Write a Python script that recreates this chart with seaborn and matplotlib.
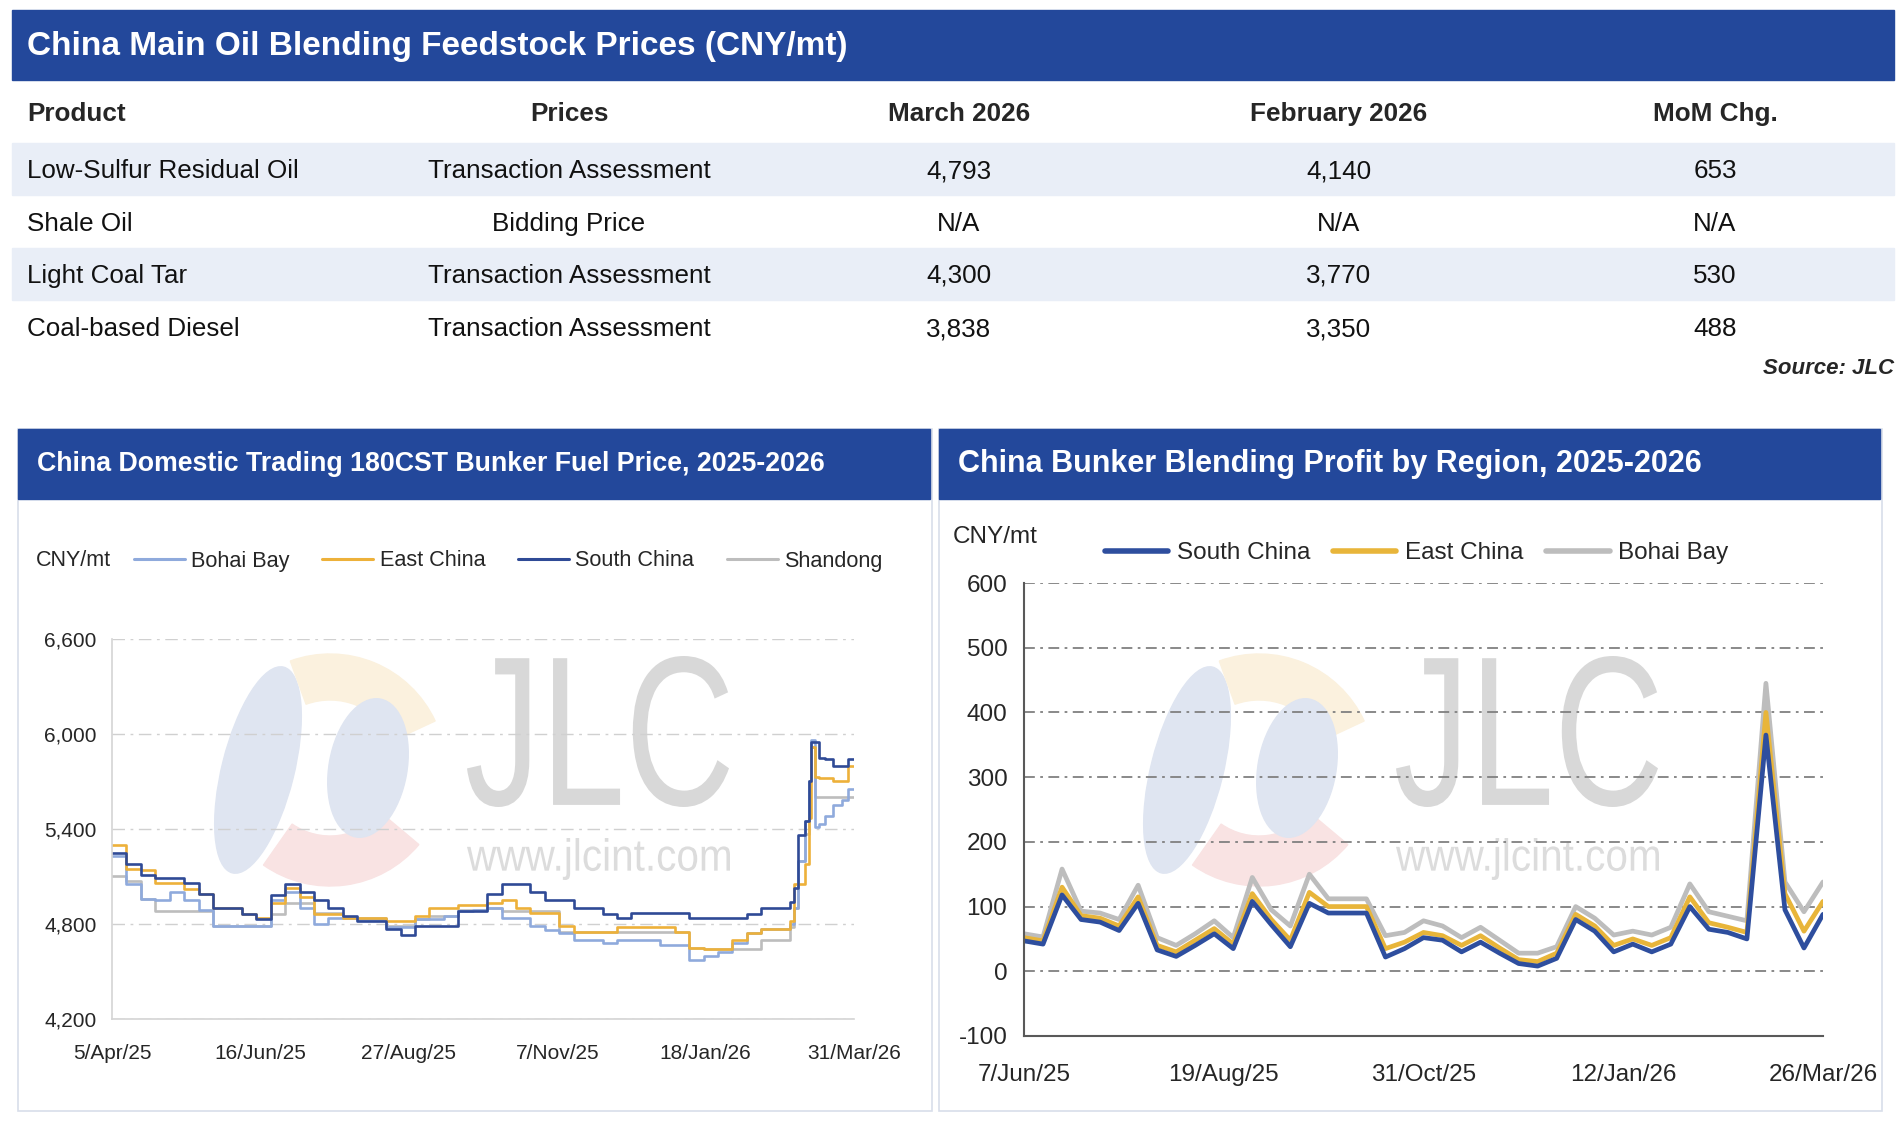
import matplotlib
matplotlib.use("Agg")
import matplotlib.pyplot as plt
from matplotlib.lines import Line2D
from matplotlib.patches import Rectangle, Ellipse, Wedge, PathPatch
from matplotlib.textpath import TextPath
from matplotlib.font_manager import FontProperties
from matplotlib.transforms import Affine2D
from matplotlib.ticker import FuncFormatter
import seaborn as sns
import pandas as pd

# ---------------- table data ----------------
table_title = "China Main Oil Blending Feedstock Prices (CNY/mt)"
table_cols = ["Product", "Prices", "March 2026", "February 2026", "MoM Chg."]
products = ["Low-Sulfur Residual Oil", "Shale Oil", "Light Coal Tar", "Coal-based Diesel"]
price_types = ["Transaction Assessment", "Bidding Price", "Transaction Assessment", "Transaction Assessment"]
march_2026 = ["4,793", "N/A", "4,300", "3,838"]
feb_2026 = ["4,140", "N/A", "3,770", "3,350"]
mom_chg = ["653", "N/A", "530", "488"]

# ---------------- left chart: 180CST bunker fuel price ----------------
fuel_title = "China Domestic Trading 180CST Bunker Fuel Price, 2025-2026"
fuel_dates = pd.date_range("2025-04-05", periods=48, freq="7D").append(pd.to_datetime([
    "2026-03-02", "2026-03-04", "2026-03-07", "2026-03-09", "2026-03-10", "2026-03-12",
    "2026-03-14", "2026-03-17", "2026-03-21", "2026-03-25", "2026-03-28", "2026-03-31"]))
bohai_bay = [5230, 5050, 4960, 4950, 5000, 4950, 4890, 4790, 4790, 4790, 4790, 4950, 5000, 4900,
             4800, 4840, 4840, 4830, 4830, 4780, 4780, 4830, 4830, 4850, 4880, 4890, 4900,
             4840, 4840, 4790, 4760, 4740, 4700, 4700, 4680, 4700, 4700, 4700, 4670, 4670, 4570,
             4600, 4620, 4680, 4740, 4770, 4770, 4800,
             4900, 5200, 5450, 5700, 5960, 5410, 5430, 5480, 5550, 5580, 5650, 5650]
east_china = [5300, 5150, 5140, 5060, 5060, 5020, 4990, 4900, 4900, 4860, 4840, 4930, 5030, 4970,
              4860, 4860, 4840, 4840, 4840, 4820, 4820, 4850, 4900, 4900, 4920, 4920, 4930,
              4950, 4900, 4870, 4870, 4790, 4750, 4750, 4750, 4780, 4780, 4780, 4780, 4750, 4650,
              4640, 4640, 4700, 4740, 4770, 4770, 4820,
              5050, 5050, 5180, 5470, 5920, 5730, 5720, 5720, 5700, 5700, 5800, 5800]
south_china = [5250, 5180, 5110, 5090, 5090, 5060, 4990, 4900, 4900, 4860, 4830, 4980, 5050, 5000,
               4950, 4900, 4850, 4820, 4820, 4770, 4730, 4790, 4790, 4790, 4880, 4880, 4990,
               5050, 5050, 5000, 4950, 4950, 4900, 4900, 4860, 4840, 4870, 4870, 4870, 4870, 4840,
               4840, 4840, 4840, 4860, 4900, 4900, 4940,
               5030, 5360, 5450, 5700, 5950, 5950, 5850, 5840, 5800, 5800, 5840, 5840]
shandong = [5100, 5070, 4960, 4880, 4880, 4880, 4880, 4790, 4790, 4790, 4790, 4860, 4930, 4930,
            4870, 4870, 4840, 4840, 4840, 4790, 4790, 4830, 4850, 4850, 4890, 4890, 4900,
            4880, 4880, 4880, 4880, 4750, 4750, 4750, 4750, 4750, 4750, 4750, 4750, 4750, 4650,
            4640, 4640, 4640, 4640, 4700, 4700, 4780,
            4900, 5200, 5370, 5700, 5920, 5600, 5600, 5600, 5600, 5600, 5600, 5600]
fuel_ticks = pd.to_datetime(["2025-04-05", "2025-06-16", "2025-08-27", "2025-11-07", "2026-01-18", "2026-03-31"])

# ---------------- right chart: blending profit ----------------
profit_title = "China Bunker Blending Profit by Region, 2025-2026"
profit_dates = pd.date_range("2025-06-07", "2026-03-26", periods=43)
profit_south = [47, 42, 118, 80, 76, 63, 105, 33, 23, 40, 58, 35, 108, 72, 38, 105, 90, 90, 90, 22, 35, 52,
                48, 30, 45, 28, 12, 8, 20, 80, 62, 30, 42, 30, 42, 100, 65, 60, 50, 365, 95, 36, 88]
profit_east = [52, 47, 130, 86, 82, 70, 115, 40, 30, 48, 66, 42, 120, 80, 48, 122, 100, 100, 100, 35, 45, 60,
               55, 40, 55, 36, 18, 15, 28, 88, 70, 40, 50, 40, 52, 115, 75, 68, 60, 400, 120, 62, 108]
profit_bohai = [58, 53, 158, 93, 90, 80, 133, 52, 40, 58, 78, 52, 145, 95, 70, 150, 112, 112, 112, 55, 60, 78,
                70, 52, 68, 48, 28, 28, 38, 100, 82, 56, 62, 56, 68, 135, 92, 85, 78, 445, 138, 92, 138]
profit_ticks = pd.to_datetime(["2025-06-07", "2025-08-19", "2025-10-31", "2026-01-12", "2026-03-26"])

# ---------------- style ----------------
sns.set_style("white")
plt.rcParams["font.family"] = ["Liberation Sans", "DejaVu Sans"]
plt.rcParams["axes.unicode_minus"] = False

W, H = 1904, 1128
HEAD = "#23489B"
BAND = "#E9EEF7"
fuel_colors = {"Bohai Bay": "#8FAADC", "East China": "#EDB13A", "South China": "#2F4A96", "Shandong": "#BDBDBD"}
profit_colors = {"South China": "#2E4E9E", "East China": "#E8B53A", "Bohai Bay": "#BDBDBD"}


def rect(x0, y0, x1, y1):
    return [x0 / W, 1 - y1 / H, (x1 - x0) / W, (y1 - y0) / H]


def date_label(d):
    return f"{d.day}/{d.strftime('%b/%y')}"


def fitted_text(ax, s, x0, y0, x1, y1, color):
    # squeeze a text outline into a pixel box (watermark lettering is condensed)
    tp = TextPath((0, 0), s, size=100, prop=FontProperties(family="Liberation Sans"))
    bb = tp.get_extents()
    tr = (Affine2D().translate(-bb.x0, -bb.y1)
          .scale((x1 - x0) / bb.width, -(y1 - y0) / bb.height)
          .translate(x0, y0))
    ax.add_patch(PathPatch(tr.transform_path(tp), color=color, lw=0))


fig = plt.figure(figsize=(W / 100, H / 100), dpi=100)
bg = fig.add_axes([0, 0, 1, 1], zorder=0)
bg.set_xlim(0, W)
bg.set_ylim(H, 0)
bg.axis("off")

# ---- table ----
bg.add_patch(Rectangle((12, 10), 1882, 70, color=HEAD))
bg.text(27, 47, table_title, color="white", fontsize=24, fontweight="bold", va="center")
col_x = [27, 569, 959, 1339, 1715]
col_ha = ["left", "center", "center", "center", "center"]
for x, ha, c in zip(col_x, col_ha, table_cols):
    bg.text(x, 114, c, fontsize=18.8, fontweight="bold", ha=ha, va="center")
row_y = [171, 224, 276, 329]
for i, y in enumerate(row_y):
    if i % 2 == 0:
        bg.add_patch(Rectangle((12, y - 28), 1882, 52, color=BAND))
    vals = [products[i], price_types[i], march_2026[i], feb_2026[i], mom_chg[i]]
    for x, ha, v in zip(col_x, col_ha, vals):
        bg.text(x, y, v, fontsize=18.7, ha=ha, va="center", color="#111111")
bg.text(1894, 369, "Source: JLC", fontsize=16, fontweight="bold", fontstyle="italic", ha="right", va="center")

# ---- panels ----
for x0, x1, title, fs in [(18, 932, fuel_title, 19.3), (939, 1882, profit_title, 22)]:
    bg.add_patch(Rectangle((x0, 429), x1 - x0, 682, fill=False, ec="#D8DEEA", lw=1.2))
    bg.add_patch(Rectangle((x0, 429), x1 - x0 - 2, 70, color=HEAD))
    bg.text(x0 + 19, 464, title, color="white", fontsize=fs, fontweight="bold", va="center")

# ---- watermarks ----
for dx in [0, 929]:
    bg.add_patch(Ellipse((258 + dx, 770), 72, 212, angle=14, color="#DFE5F1"))
    bg.add_patch(Wedge((330 + dx, 770), 116, 250, 335, width=46, color="#FBF1DE"))
    bg.add_patch(Wedge((330 + dx, 770), 116, 40, 125, width=50, color="#F9E3E3"))
    bg.add_patch(Ellipse((368 + dx, 768), 78, 140, angle=10, color="#DFE5F1"))
    fitted_text(bg, "JLC", 467 + dx, 656, 729 + dx, 807, "#D8D8D8")
    fitted_text(bg, "www.jlcint.com", 467 + dx, 838, 730 + dx, 880, "#DCDCDC")

# ---------------- left chart ----------------
fuel_df = pd.DataFrame({"date": fuel_dates, "Bohai Bay": bohai_bay, "East China": east_china,
                        "South China": south_china, "Shandong": shandong})
fuel_long = fuel_df.melt(id_vars="date", var_name="region", value_name="price")

ax1 = fig.add_axes(rect(112, 639, 854, 1019), zorder=1)
ax1.set_facecolor("none")
sns.lineplot(data=fuel_long, x="date", y="price", hue="region",
             hue_order=["Shandong", "Bohai Bay", "East China", "South China"],
             palette=fuel_colors, estimator=None, drawstyle="steps-post", linewidth=1.9,
             legend=False, ax=ax1)
ax1.set_xlim(fuel_ticks[0], fuel_ticks[-1])
ax1.set_ylim(4200, 6600)
ax1.set_yticks([4200, 4800, 5400, 6000, 6600])
ax1.yaxis.set_major_formatter(FuncFormatter(lambda v, p: f"{v:,.0f}"))
ax1.set_xticks(fuel_ticks)
ax1.set_xticklabels([date_label(d) for d in fuel_ticks])
ax1.set_xlabel("")
ax1.set_ylabel("")
for s in ["top", "right"]:
    ax1.spines[s].set_visible(False)
for s in ["left", "bottom"]:
    ax1.spines[s].set_color("#D4D4D4")
    ax1.spines[s].set_linewidth(1.2)
ax1.yaxis.grid(True, linestyle=(0, (9, 4, 2, 4)), color="#D0D0D0", linewidth=1)
ax1.tick_params(axis="y", length=0, labelsize=15, pad=11)
ax1.tick_params(axis="x", direction="in", length=10, color="#D4D4D4", labelsize=15, pad=18)

bg.text(36, 561, "CNY/mt", fontsize=15.5, va="center")
h1 = [Line2D([], [], color=fuel_colors[k], lw=2.2) for k in ["Bohai Bay", "East China", "South China", "Shandong"]]
ax1.legend(h1, ["Bohai Bay", "East China", "South China", "Shandong"], ncol=4, frameon=False,
           loc="center left", bbox_to_anchor=(134 / W, 1 - 561 / H), bbox_transform=fig.transFigure,
           fontsize=15.6, handlelength=2.35, handletextpad=0.3, columnspacing=1.5,
           borderpad=0, borderaxespad=0)

# ---------------- right chart ----------------
profit_df = pd.DataFrame({"date": profit_dates, "South China": profit_south,
                          "East China": profit_east, "Bohai Bay": profit_bohai})
profit_long = profit_df.melt(id_vars="date", var_name="region", value_name="profit")

ax2 = fig.add_axes(rect(1024, 583, 1823, 1036), zorder=1)
ax2.set_facecolor("none")
sns.lineplot(data=profit_long, x="date", y="profit", hue="region",
             hue_order=["Bohai Bay", "East China", "South China"],
             palette=profit_colors, estimator=None, linewidth=3.4, legend=False, ax=ax2)
ax2.set_xlim(profit_ticks[0], profit_ticks[-1])
ax2.set_ylim(-100, 600)
ax2.set_yticks(range(-100, 601, 100))
ax2.set_xticks(profit_ticks)
ax2.set_xticklabels([date_label(d) for d in profit_ticks])
ax2.set_xlabel("")
ax2.set_ylabel("")
for s in ["top", "right"]:
    ax2.spines[s].set_visible(False)
for s in ["left", "bottom"]:
    ax2.spines[s].set_color("#595959")
    ax2.spines[s].set_linewidth(1.5)
ax2.yaxis.grid(True, linestyle=(0, (6, 3, 1.5, 3)), color="#808080", linewidth=1.3)
ax2.tick_params(axis="y", length=0, labelsize=17.5, pad=12)
ax2.tick_params(axis="x", direction="in", length=12, width=1.3, color="#595959", labelsize=17.5, pad=20)

bg.text(953, 537, "CNY/mt", fontsize=17.5, va="center")
h2 = [Line2D([], [], color=profit_colors[k], lw=4) for k in ["South China", "East China", "Bohai Bay"]]
ax2.legend(h2, ["South China", "East China", "Bohai Bay"], ncol=3, frameon=False,
           loc="center left", bbox_to_anchor=(1105 / W, 1 - 553 / H), bbox_transform=fig.transFigure,
           fontsize=17.5, handlelength=2.6, handletextpad=0.35, columnspacing=0.95,
           borderpad=0, borderaxespad=0)

fig.savefig("out.png", dpi=100, facecolor="white")
